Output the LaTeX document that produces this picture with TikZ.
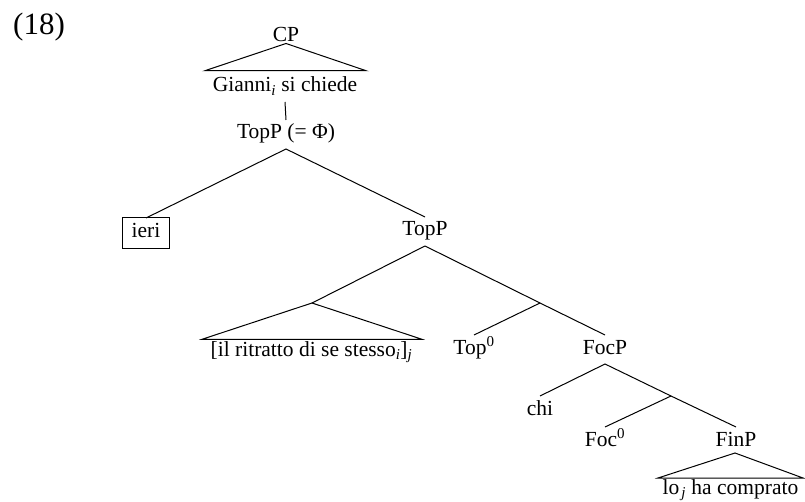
\documentclass[tikz,border=0pt]{standalone}
\usepackage{fontspec}
\setmainfont{Liberation Serif}
\begin{document}
\begin{tikzpicture}[x=1pt,y=-1pt,
  lbl/.style={font=\fontsize{21.5}{25}\selectfont, text height=14pt, text depth=5pt,
              inner xsep=1pt, inner ysep=5pt, outer sep=0pt, anchor=base},
  edge/.style={line width=1pt},
  boxed/.style={lbl, draw, line width=1pt, inner xsep=9pt, inner ysep=6pt}]
\useasboundingbox (0,0) rectangle (805,502);

% example number
\node[font=\fontsize{31}{35}\selectfont, anchor=base] (ex) at (39,35) {(18)};

% CP with its roof
\node[lbl] (cp) at (286,42) {CP};
\coordinate (cpA) at (286,43.5);
\coordinate (cpL) at (205,70.7);
\coordinate (cpR) at (366,70.7);
\draw[edge] (cpA) -- (cpL) -- (cpR) -- cycle;
\node[lbl] (gianni) at (285,92) {Gianni\textsubscript{\itshape i} si chiede};

% TopP (= Phi)
\node[lbl] (topphi) at (286,139) {TopP (= Φ)};
\draw[edge] (gianni.south) -- (topphi.north);

\node[boxed] (ieri) at (146,238) {ieri};
\node[lbl] (topp) at (425,236) {TopP};
\draw[edge] (ieri.north) -- (topphi.south) -- (topp.north);

% topicalised phrase under a roof
\coordinate (spec) at (312,303);
\coordinate (specL) at (202,339.3);
\coordinate (specR) at (422,339.3);
\draw[edge] (topp.south) -- (spec);
\draw[edge] (spec) -- (specL) -- (specR) -- cycle;
\node[lbl] (ritratto) at (311.5,356) {[il ritratto di se stesso\textsubscript{\itshape i}]\textsubscript{\itshape j}};

% Top' level
\coordinate (topbar) at (540,303);
\node[lbl] (top0) at (474,354) {Top\textsuperscript{0}};
\node[lbl] (focp) at (605,354) {FocP};
\draw[edge] (topp.south) -- (topbar);
\draw[edge] (top0.north) -- (topbar) -- (focp.north);

% FocP
\node[lbl] (chi) at (540,415) {chi};
\coordinate (focbar) at (671,396);
\draw[edge] (chi.north) -- (focp.south) -- (focbar);
\node[lbl] (foc0) at (605,446) {Foc\textsuperscript{0}};
\node[lbl] (finp) at (736,446) {FinP};
\draw[edge] (foc0.north) -- (focbar) -- (finp.north);

% FinP with its roof
\coordinate (finA) at (735,453);
\coordinate (finL) at (658,478);
\coordinate (finR) at (803,478);
\draw[edge] (finA) -- (finL) -- (finR) -- cycle;
\node[lbl] (lo) at (730.5,494) {lo\kern2pt\textsubscript{\itshape j} ha comprato};
\end{tikzpicture}
\end{document}
